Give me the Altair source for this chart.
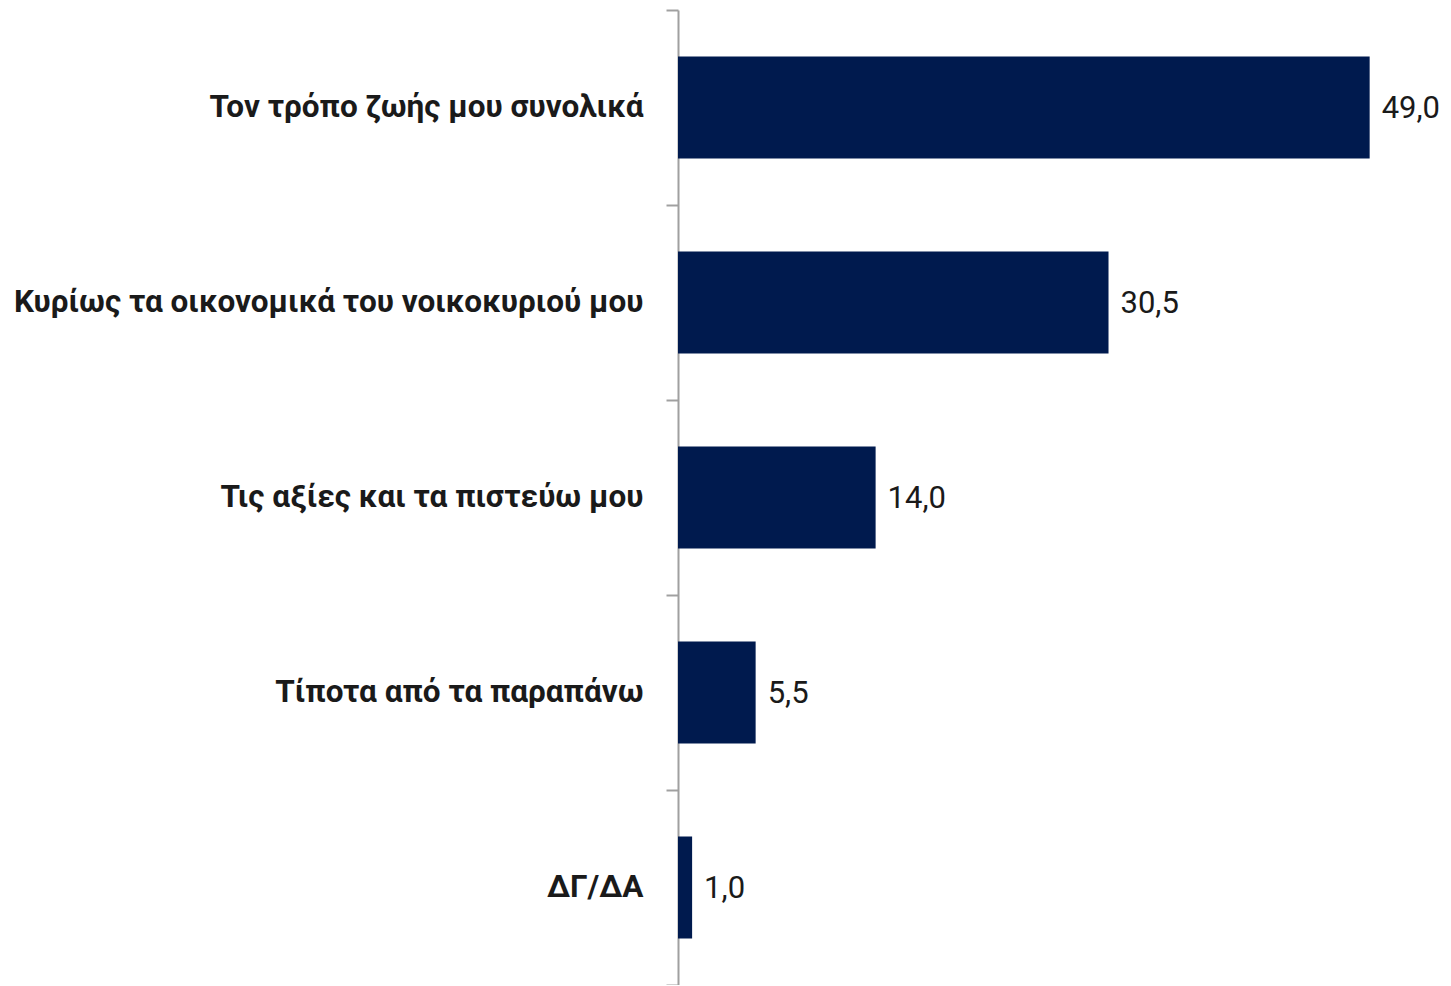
import altair as alt
import pandas as pd

categories = [
    "Τον τρόπο ζωής μου συνολικά",
    "Κυρίως τα οικονομικά του νοικοκυριού μου",
    "Τις αξίες και τα πιστεύω μου",
    "Τίποτα από τα παραπάνω",
    "ΔΓ/ΔΑ",
]
values = [49.0, 30.5, 14.0, 5.5, 1.0]

df = pd.DataFrame({"cat": categories, "v": values})

FONT = "Roboto, Liberation Sans, sans-serif"
NAVY = "#001a4e"

y = alt.Y(
    "cat:N",
    sort=categories,
    title=None,
    scale=alt.Scale(paddingInner=0, paddingOuter=0),
    axis=alt.Axis(
        labelFont=FONT,
        labelFontSize=31.5,
        labelFontWeight="bold",
        labelColor="#1a1a1a",
        labelPadding=23,
        labelLimit=800,
        tickSize=12,
        tickBand="extent",
        tickColor="#a0a0a0",
        tickWidth=2,
        domainColor="#a0a0a0",
        domainWidth=2,
    ),
)
x = alt.X(
    "v:Q",
    title=None,
    scale=alt.Scale(domain=[0, 52], nice=False),
    axis=None,
)

bars = alt.Chart(df).mark_bar(color=NAVY, height={"band": 0.523}).encode(x=x, y=y)
labels = (
    alt.Chart(df)
    .transform_calculate(lbl="replace(format(datum.v, '.1f'), '.', ',')")
    .mark_text(align="left", baseline="middle", dx=12, dy=1, font=FONT, fontSize=31, color="#1a1a1a")
    .encode(x=x, y=y, text="lbl:N")
)

chart = (
    alt.layer(bars, labels)
    .properties(
        width=734,
        height=975,
        autosize=alt.AutoSizeParams(type="none"),
        padding={"left": 670, "top": 2, "right": 29, "bottom": 0},
    )
    .configure(background="white")
    .configure_view(strokeWidth=0, stroke="transparent")
)

chart.save("out.html", embed_options={"renderer": "svg", "actions": False})
